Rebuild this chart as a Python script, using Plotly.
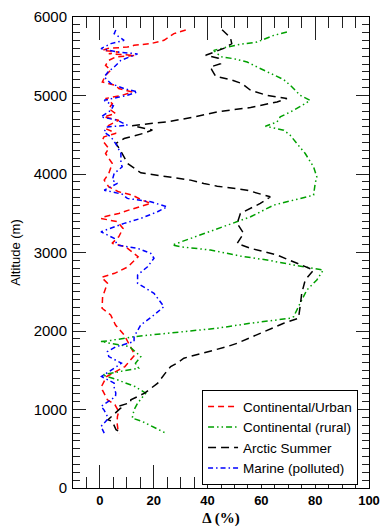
import plotly.graph_objects as go

# ---------------- data ----------------
urban_alt = [5834, 5788, 5703, 5661, 5639, 5617, 5600, 5575, 5554, 5533, 5510, 5490, 5448, 5384,
             5321, 5257, 5172, 5130, 5088, 5045, 5003, 4961, 4897, 4834, 4770, 4727, 4685, 4621,
             4579, 4520, 4473, 4430, 4325, 4261, 4134, 4007, 3922, 3836, 3773, 3731, 3667, 3625,
             3540, 3498, 3455, 3434, 3392, 3307, 3201, 3116, 3073, 2946, 2819, 2735, 2684, 2608,
             2437, 2290, 2204, 2077, 1950, 1823, 1696, 1547, 1420, 1293, 1250, 1123, 1060, 975,
             911, 827, 742, 700]
urban_val = [31.9, 27.5, 23.8, 18.9, 12.7, 10.2, 3.0, 1.0, 7.0, 3.3, 13.0, 5.8, 3.3, 2.1,
             4.0, 2.1, 0.9, 5.8, 7.0, 12.0, 8.3, 2.1, 4.6, 3.3, 5.8, 1.5, 7.0, 3.3,
             2.1, 6.0, 1.5, 0.9, 3.3, 2.1, 4.6, 3.3, 1.6, 3.3, 7.0, 12.0, 15.7, 18.9,
             10.7, 7.0, 1.5, 0.4, 6.5, 8.6, 7.0, 4.5, 9.5, 14.2, 10.5, 5.5, 0.6, 2.8,
             1.0, 0.8, 4.0, 5.8, 9.0, 11.0, 13.0, 9.3, 2.5, 0.6, 0.9, 2.8, 5.6, 7.0,
             6.5, 6.4, 6.7, 7.3]

rural_alt = [5808, 5766, 5681, 5652, 5617, 5575, 5533, 5490, 5469, 5427, 5363, 5287, 5203, 5109,
             5003, 4939, 4897, 4812, 4727, 4663, 4609, 4558, 4494, 4388, 4261, 4091, 3964, 3880,
             3731, 3667, 3604, 3455, 3349, 3264, 3167, 3095, 3073, 3031, 2955, 2904, 2841, 2777,
             2650, 2522, 2353, 2183, 2162, 2099, 2035, 1992, 1950, 1928, 1880, 1865, 1801, 1674,
             1590, 1526, 1463, 1441, 1378, 1293, 1208, 1081, 996, 890, 848, 763, 700]
rural_val = [69.5, 64.6, 58.4, 52.2, 47.3, 42.3, 43.6, 45.4, 49.7, 54.7, 58.4, 63.3, 68.3, 71.4,
             74.4, 78.1, 76.3, 72.0, 67.0, 65.8, 61.5, 68.3, 70.7, 73.2, 76.3, 79.4, 80.6, 80.0,
             79.4, 72.0, 64.6, 56.0, 47.3, 41.1, 32.5, 26.9, 30.0, 41.1, 52.2, 62.1, 72.0, 83.0,
             80.6, 76.9, 74.4, 72.0, 70.7, 56.0, 43.6, 31.2, 18.9, 12.7, 4.1, 0.4, 11.0, 15.2,
             13.2, 14.4, 4.1, 0.9, 6.5, 13.0, 17.0, 14.0, 12.7, 12.0, 15.7, 21.0, 24.4]

arctic_alt = [5838, 5737, 5660, 5600, 5512, 5475, 5404, 5363, 5321, 5245, 5203, 5152, 5066, 5003,
              4961, 4918, 4847, 4791, 4727, 4663, 4643, 4615, 4560, 4516, 4452, 4388, 4325, 4134,
              4015, 3964, 3922, 3880, 3845, 3794, 3709, 3625, 3498, 3371, 3244, 3116, 3053, 2968,
              2882, 2777, 2650, 2480, 2310, 2162, 2099, 1992, 1887, 1844, 1801, 1738, 1654, 1590,
              1547, 1463, 1380, 1336, 1208, 1123, 1089, 1038, 1018, 954, 869, 848, 742, 707]
arctic_val = [45.4, 48.5, 49.0, 46.0, 39.3, 44.0, 44.8, 41.0, 41.7, 43.0, 48.5, 52.8, 56.0, 62.0,
              69.5, 65.8, 56.0, 43.6, 35.0, 25.0, 18.9, 12.0, 19.5, 16.0, 9.0, 5.9, 7.2, 10.3,
              15.2, 26.3, 33.7, 38.6, 43.6, 54.7, 63.3, 59.6, 52.2, 51.0, 53.4, 51.0, 56.0, 65.8,
              72.0, 79.4, 76.3, 75.0, 74.4, 73.8, 68.3, 60.9, 54.0, 51.0, 47.3, 40.5, 31.2, 28.6,
              26.3, 24.3, 22.5, 21.5, 16.6, 11.5, 11.4, 6.5, 7.7, 5.5, 3.0, 4.6, 6.0, 7.7]

marine_alt = [5834, 5788, 5703, 5661, 5597, 5554, 5530, 5490, 5448, 5363, 5300, 5236, 5151, 5088,
              5045, 5003, 4939, 4870, 4812, 4727, 4685, 4621, 4600, 4536, 4473, 4380, 4261, 4134,
              4091, 4007, 3922, 3880, 3794, 3743, 3689, 3646, 3582, 3519, 3434, 3371, 3264, 3180,
              3095, 3053, 2989, 2926, 2819, 2713, 2608, 2480, 2310, 2204, 2077, 1928, 1865, 1800,
              1738, 1674, 1590, 1526, 1420, 1336, 1293, 1208, 1166, 1038, 996, 911, 869, 784,
              742, 700]
marine_val = [5.9, 5.3, 9.0, 4.1, 0.4, 6.5, 14.0, 11.0, 7.8, 5.3, 3.0, 1.6, 4.1, 9.0,
              14.0, 10.2, 1.6, 5.0, 4.1, 0.4, 6.5, 10.2, 2.8, 1.5, 4.1, 6.0, 7.8, 7.8,
              8.3, 5.3, 4.6, 6.5, 1.6, 8.3, 10.2, 18.9, 25.0, 21.4, 15.2, 9.0, 0.4, 5.3,
              6.5, 14.0, 18.9, 20.1, 17.7, 14.0, 14.0, 20.1, 23.8, 20.1, 15.2, 12.7, 12.7, 6.0,
              2.8, 3.3, 8.0, 5.3, 0.6, 5.3, 5.2, 5.9, 5.8, 0.4, 1.5, 2.8, 2.7, 0.4,
              0.9, 1.6]

series_names = ["Continental/Urban", "Continental (rural)", "Arctic Summer", "Marine (polluted)"]

# ---------------- styles ----------------
styles = [
    dict(color="#ff0000", dash="6px,4px"),
    dict(color="#00a000", dash="6px,3px,1.5px,3px,1.5px,3px"),
    dict(color="#000000", dash="8px,5px"),
    dict(color="#0000ff", dash="5px,3px,1.5px,3px"),
]
data = [(urban_val, urban_alt), (rural_val, rural_alt), (arctic_val, arctic_alt), (marine_val, marine_alt)]

fig = go.Figure()
for name, (xv, yv), st in zip(series_names, data, styles):
    fig.add_trace(go.Scatter(x=xv, y=yv, mode="lines", name=name,
                             line=dict(color=st["color"], dash=st["dash"], width=1.5)))

TICKC = "#222222"

fig.update_layout(
    template="simple_white",
    width=380, height=527,
    margin=dict(l=73, r=11, t=17, b=39),
    paper_bgcolor="white", plot_bgcolor="white",
    showlegend=True,
    legend=dict(x=0.963, xanchor="right", y=0.006, yanchor="bottom",
                bgcolor="white", bordercolor="black", borderwidth=1,
                font=dict(family="Liberation Sans, Arial", size=13.5, color="black"),
                tracegroupgap=0, itemwidth=30),
    font=dict(family="Liberation Sans, Arial", color="black"),
)

fig.update_xaxes(
    range=[-10, 100], tickmode="linear", tick0=0, dtick=20,
    ticks="inside", ticklen=23, tickwidth=1, tickcolor=TICKC,
    minor=dict(dtick=5, ticks="inside", ticklen=11, tickwidth=1, tickcolor=TICKC, showgrid=False),
    showline=True, linecolor="black", linewidth=1, mirror="ticks",
    showgrid=False, zeroline=False, automargin=False, ticklabeloverflow="allow",
    tickfont=dict(family="Liberation Sans, Arial", size=13, color="black", weight="bold"),
    title=dict(text="<b>Δ (%)</b>", font=dict(family="Liberation Serif, Times New Roman", size=15, color="black"),
               standoff=5),
)
fig.update_yaxes(
    range=[0, 6000], tickmode="linear", tick0=0, dtick=1000,
    ticks="inside", ticklen=13, tickwidth=1, tickcolor=TICKC,
    minor=dict(dtick=100, ticks="inside", ticklen=7, tickwidth=1, tickcolor=TICKC, showgrid=False),
    showline=True, linecolor="black", linewidth=1, mirror="ticks",
    showgrid=False, zeroline=False, automargin=False, ticklabelstandoff=2, ticklabeloverflow="allow",
    tickfont=dict(family="Liberation Sans, Arial", size=15, color="black"),
    title=dict(text="Altitude (m)", font=dict(family="Liberation Sans, Arial", size=13, color="black"),
               standoff=10),
)

# remove the default 8px page margin so the 380x527 figure fills the window exactly
fig.write_html("out.html", config={"displayModeBar": False},
               post_script="document.body.style.margin='0px';")
